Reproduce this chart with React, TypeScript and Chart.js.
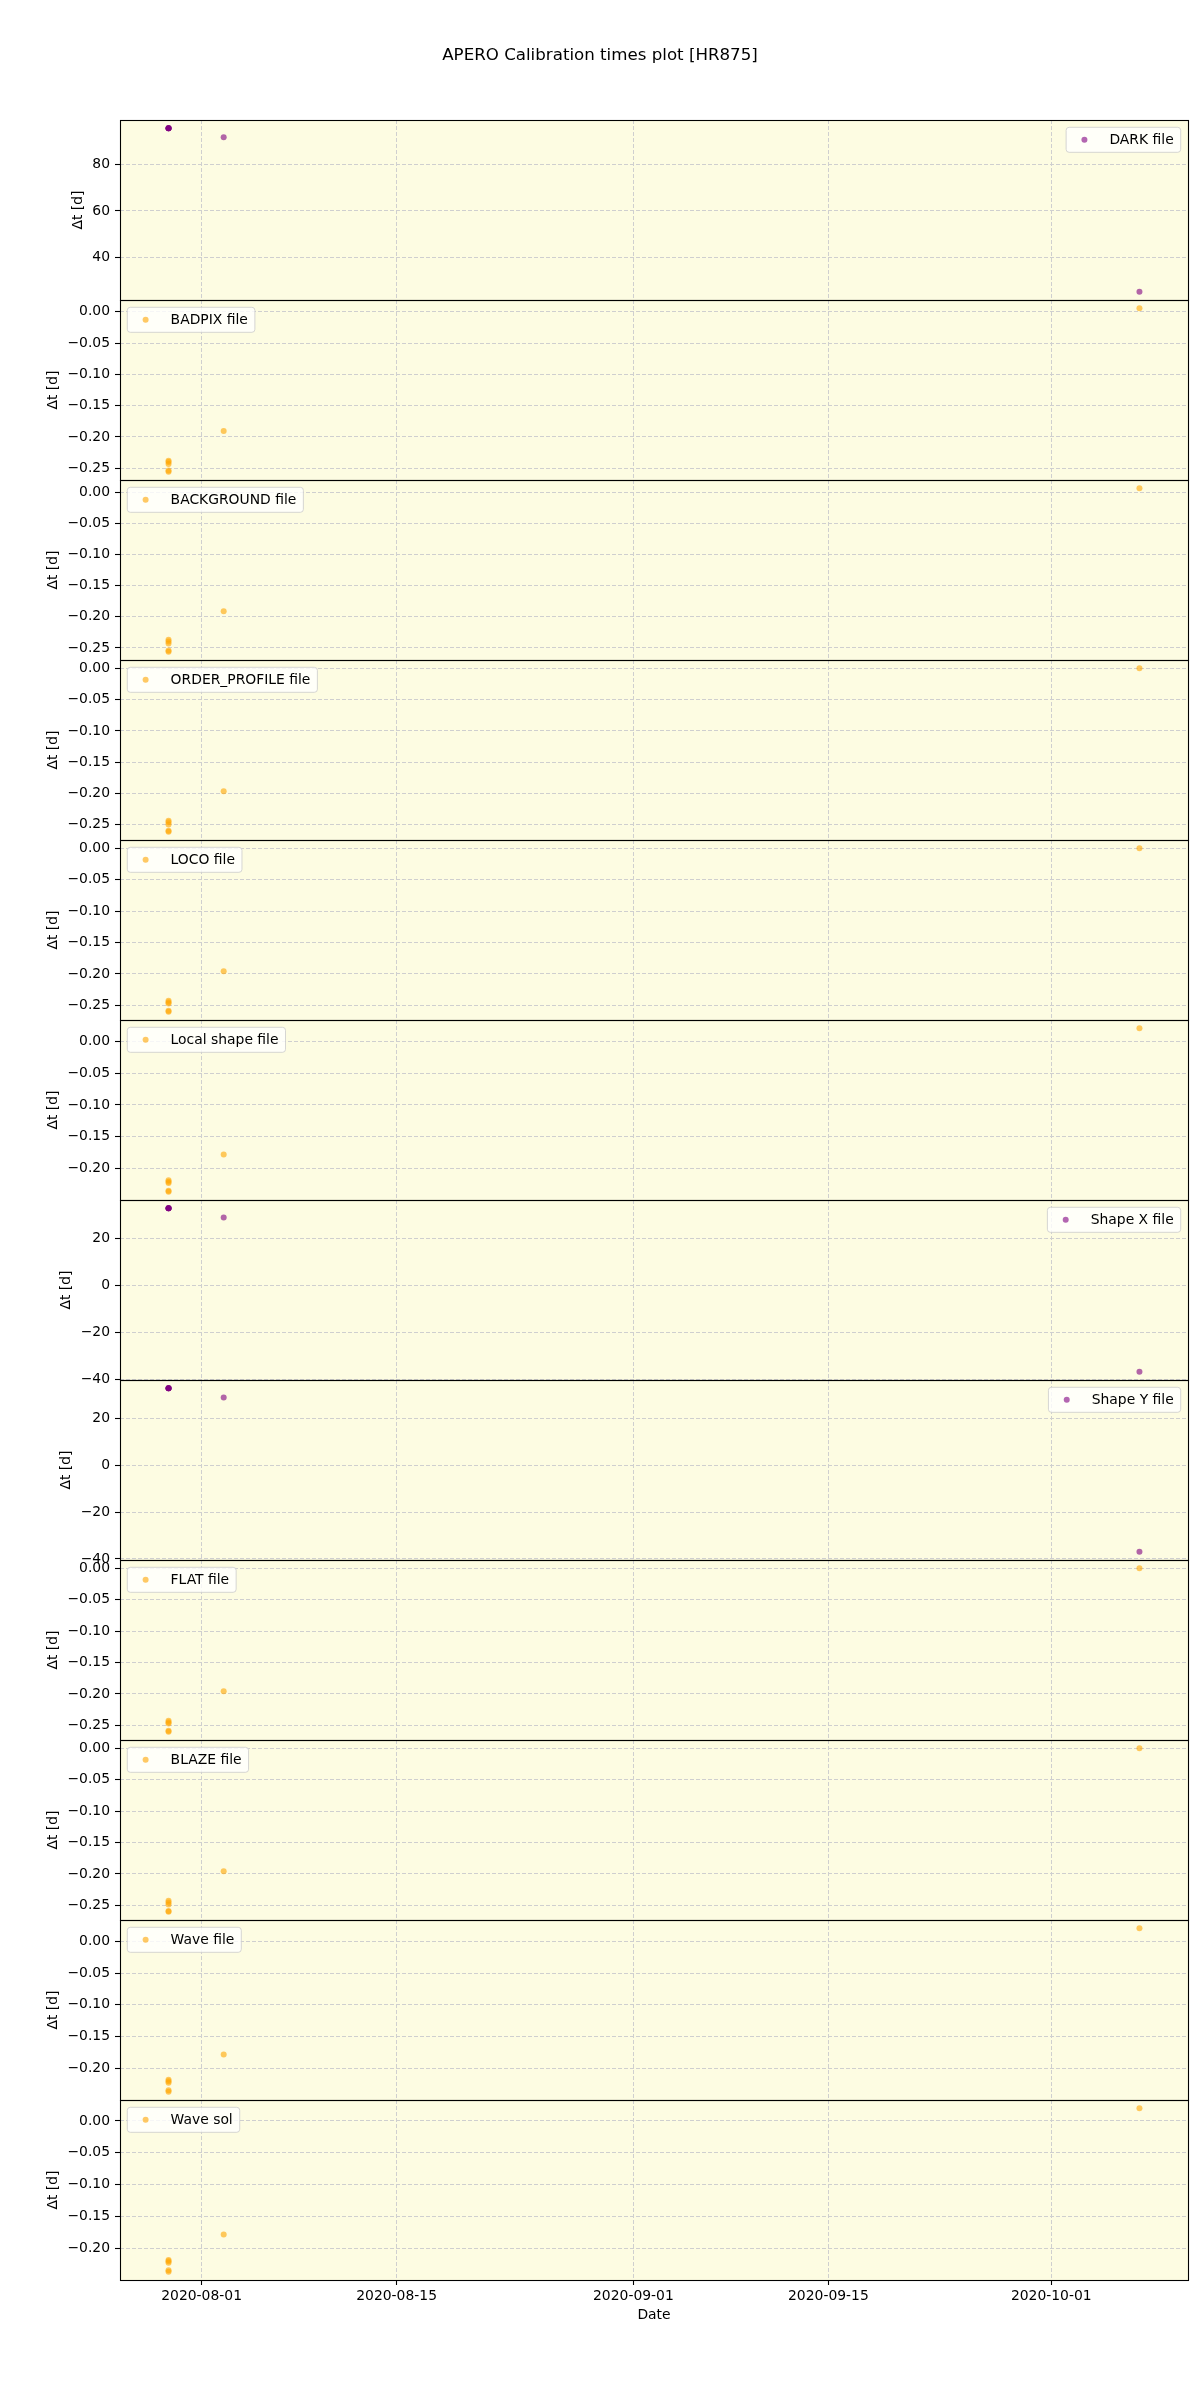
import React, { useEffect, useRef } from 'react';
import { Chart, registerables } from 'chart.js';

Chart.register(...registerables);

// ---------------- data ----------------
const TITLE = 'APERO Calibration times plot [HR875]';
const X_LABEL = 'Date';
const Y_LABEL = 'Δt [d]';

const OBS_DATES = [
  '2020-07-29T15:00:00Z',
  '2020-07-29T15:00:00Z',
  '2020-07-29T15:00:00Z',
  '2020-07-29T15:00:00Z',
  '2020-07-29T15:00:00Z',
  '2020-08-02T14:00:00Z',
  '2020-10-07T08:00:00Z',
];

const X_TICKS = ['2020-08-01', '2020-08-15', '2020-09-01', '2020-09-15', '2020-10-01'];

const PANEL_LABELS = [
  'DARK file',
  'BADPIX file',
  'BACKGROUND file',
  'ORDER_PROFILE file',
  'LOCO file',
  'Local shape file',
  'Shape X file',
  'Shape Y file',
  'FLAT file',
  'BLAZE file',
  'Wave file',
  'Wave sol',
];

const DARK_DT = [95.47, 95.46, 95.45, 95.44, 95.43, 91.62, 25.38];
const BADPIX_DT = [-0.2379, -0.24, -0.2431, -0.2535, -0.2557, -0.1904, 0.0056];
const BACKGROUND_DT = [-0.2368, -0.2395, -0.2428, -0.254, -0.2562, -0.191, 0.0068];
const ORDER_PROFILE_DT = [-0.2435, -0.246, -0.2494, -0.2595, -0.2612, -0.1965, 0.0002];
const LOCO_DT = [-0.2427, -0.245, -0.2471, -0.2585, -0.2602, -0.1956, 0.0001];
const LOCAL_SHAPE_DT = [-0.2184, -0.2205, -0.2228, -0.235, -0.2365, -0.178, 0.0205];
const SHAPE_X_DT = [32.82, 32.81, 32.8, 32.79, 32.78, 28.9, -36.82];
const SHAPE_Y_DT = [32.95, 32.94, 32.93, 32.92, 32.91, 29.02, -36.94];
const FLAT_DT = [-0.2427, -0.245, -0.2471, -0.2585, -0.2602, -0.1956, 0.0001];
const BLAZE_DT = [-0.2427, -0.2455, -0.2485, -0.259, -0.2602, -0.1956, 0.0001];
const WAVE_FILE_DT = [-0.218, -0.2203, -0.2226, -0.2345, -0.2368, -0.178, 0.0206];
const WAVE_SOL_DT = [-0.218, -0.22, -0.2225, -0.234, -0.2366, -0.178, 0.0201];

const PANEL_VALUES = [
  DARK_DT,
  BADPIX_DT,
  BACKGROUND_DT,
  ORDER_PROFILE_DT,
  LOCO_DT,
  LOCAL_SHAPE_DT,
  SHAPE_X_DT,
  SHAPE_Y_DT,
  FLAT_DT,
  BLAZE_DT,
  WAVE_FILE_DT,
  WAVE_SOL_DT,
];

const DARK_TICKS = [40, 60, 80];
const FINE_TICKS_A = [-0.25, -0.2, -0.15, -0.1, -0.05, 0.0];
const FINE_TICKS_B = [-0.2, -0.15, -0.1, -0.05, 0.0];
const SHAPE_TICKS = [-40, -20, 0, 20];

const PANEL_TICKS = [
  DARK_TICKS,
  FINE_TICKS_A,
  FINE_TICKS_A,
  FINE_TICKS_A,
  FINE_TICKS_A,
  FINE_TICKS_B,
  SHAPE_TICKS,
  SHAPE_TICKS,
  FINE_TICKS_A,
  FINE_TICKS_A,
  FINE_TICKS_B,
  FINE_TICKS_B,
];

const PANEL_DECIMALS = [0, 2, 2, 2, 2, 2, 0, 0, 2, 2, 2, 2];

// ---------------- style ----------------
const FONT = "'DejaVu Sans', sans-serif";
const FS = 13.9;
const TITLE_FS = 16.67;
const AXES_BG = 'rgb(253,252,226)';
const GRID = '#cfcfcf';
const PURPLE = 'rgba(128,0,128,0.6)';
const ORANGE = 'rgba(255,165,0,0.6)';
const PANEL_COLOR = [PURPLE, ORANGE, ORANGE, ORANGE, ORANGE, ORANGE, PURPLE, PURPLE, ORANGE, ORANGE, ORANGE, ORANGE];
const LEGEND_RIGHT = [true, false, false, false, false, false, true, true, false, false, false, false];

const Y_AXIS_WIDTH = 120;
const TICK_LEN = 5;
const TICK_PAD = 5;

function fmt(v: number, d: number): string {
  let s = v.toFixed(d);
  if (/^-0(\.0+)?$/.test(s)) s = s.slice(1);
  if (s.startsWith('-')) s = '\u2212' + s.slice(1);
  return s;
}

function limits(vals: number[]): [number, number] {
  const mn = Math.min(...vals);
  const mx = Math.max(...vals);
  const m = (mx - mn) * 0.05;
  return [mn - m, mx + m];
}

function roundRect(ctx: CanvasRenderingContext2D, x: number, y: number, w: number, h: number, r: number) {
  ctx.beginPath();
  ctx.moveTo(x + r, y);
  ctx.lineTo(x + w - r, y);
  ctx.arcTo(x + w, y, x + w, y + r, r);
  ctx.lineTo(x + w, y + h - r);
  ctx.arcTo(x + w, y + h, x + w - r, y + h, r);
  ctx.lineTo(x + r, y + h);
  ctx.arcTo(x, y + h, x, y + h - r, r);
  ctx.lineTo(x, y + r);
  ctx.arcTo(x, y, x + r, y, r);
  ctx.closePath();
}

const panelPlugin = {
  id: 'panelDecor',
  beforeDraw(chart: any) {
    const { ctx, chartArea } = chart;
    ctx.save();
    ctx.fillStyle = '#ffffff';
    ctx.fillRect(0, 0, chart.width, chart.height);
    ctx.fillStyle = AXES_BG;
    ctx.fillRect(chartArea.left, chartArea.top, chartArea.right - chartArea.left, chartArea.bottom - chartArea.top);
    ctx.restore();
  },
  afterDatasetsDraw(chart: any) {
    const { ctx, chartArea } = chart;
    ctx.save();
    ctx.strokeStyle = '#000';
    ctx.lineWidth = 1.1;
    PANEL_LABELS.forEach((_, i) => {
      const s = chart.scales['y' + i];
      ctx.strokeRect(
        Math.round(chartArea.left) + 0.5,
        Math.round(s.top) + 0.5,
        Math.round(chartArea.right) - Math.round(chartArea.left),
        Math.round(s.bottom) - Math.round(s.top)
      );
    });
    ctx.restore();
  },
  afterDraw(chart: any) {
    const { ctx, chartArea } = chart;
    ctx.save();
    // figure title, centred on the figure
    ctx.font = `${TITLE_FS}px ${FONT}`;
    ctx.fillStyle = '#000';
    ctx.textAlign = 'center';
    ctx.textBaseline = 'middle';
    ctx.fillText(TITLE, chart.width / 2, 56);

    ctx.font = `${FS}px ${FONT}`;
    PANEL_LABELS.forEach((label, i) => {
      const s = chart.scales['y' + i];
      const tw = ctx.measureText(label).width;
      const h = 25;
      const pad = 7.3;
      const w = 43.3 + tw + 7;
      const x0 = LEGEND_RIGHT[i] ? chartArea.right - pad - w : chartArea.left + pad;
      const y0 = s.top + pad;
      roundRect(ctx, x0, y0, w, h, 3);
      ctx.fillStyle = 'rgba(255,255,255,0.8)';
      ctx.fill();
      ctx.strokeStyle = 'rgba(204,204,204,0.8)';
      ctx.lineWidth = 1;
      ctx.stroke();
      ctx.beginPath();
      ctx.arc(x0 + 18.3, y0 + h / 2, 3, 0, Math.PI * 2);
      ctx.fillStyle = PANEL_COLOR[i];
      ctx.fill();
      ctx.fillStyle = '#000';
      ctx.textBaseline = 'middle';
      ctx.textAlign = 'left';
      ctx.fillText(label, x0 + 43.3, y0 + h / 2 + 0.5);
    });
    ctx.restore();
  },
};

export default function App() {
  const ref = useRef<HTMLCanvasElement>(null);

  useEffect(() => {
    const canvas = ref.current;
    if (!canvas) return;

    const mctx = document.createElement('canvas').getContext('2d')!;
    mctx.font = `${FS}px ${FONT}`;

    const xs = OBS_DATES.map((d) => Date.parse(d));
    const [xMin, xMax] = limits(xs);
    const font = { family: FONT, size: FS, weight: 'normal' as const, lineHeight: 1.2 };

    const scales: any = {
      x: {
        type: 'linear',
        position: 'bottom',
        min: xMin,
        max: xMax,
        afterBuildTicks: (s: any) => {
          s.ticks = X_TICKS.map((t) => ({ value: Date.parse(t + 'T00:00:00Z') }));
        },
        afterFit: (s: any) => {
          s.height = 120;
        },
        ticks: {
          callback: (v: any) => new Date(Number(v)).toISOString().slice(0, 10),
          font,
          color: '#000',
          padding: 3.3,
          maxRotation: 0,
          autoSkip: false,
        },
        grid: { color: GRID, lineWidth: 1, tickColor: '#000', tickLength: TICK_LEN, tickWidth: 1.1 },
        border: { display: false, dash: [4, 2] },
        title: { display: true, text: X_LABEL, color: '#000', font, padding: { top: 0, bottom: 76.7 } },
      },
    };

    PANEL_LABELS.forEach((_, i) => {
      const [mn, mx] = limits(PANEL_VALUES[i]);
      const ticks = PANEL_TICKS[i];
      const dec = PANEL_DECIMALS[i];
      const maxW = Math.max(...ticks.map((t) => mctx.measureText(fmt(t, dec)).width));
      const labelRight = Y_AXIS_WIDTH - TICK_LEN - TICK_PAD;
      const titleCenter = labelRight - maxW - 14.2;
      scales['y' + i] = {
        type: 'linear',
        position: 'left',
        stack: 'panels',
        stackWeight: 1,
        weight: PANEL_LABELS.length - i,
        min: mn,
        max: mx,
        afterBuildTicks: (s: any) => {
          s.ticks = ticks.map((v) => ({ value: v }));
        },
        afterFit: (s: any) => {
          s.width = Y_AXIS_WIDTH;
        },
        ticks: {
          callback: (v: any) => fmt(Number(v), dec),
          font,
          color: '#000',
          padding: TICK_PAD,
          autoSkip: false,
        },
        grid: { color: GRID, lineWidth: 1, tickColor: '#000', tickLength: TICK_LEN, tickWidth: 1.1 },
        border: { display: false, dash: [4, 2] },
        title: {
          display: true,
          text: Y_LABEL,
          color: '#000',
          font,
          padding: { top: titleCenter - (FS * 1.2) / 2, bottom: 0 },
        },
      };
    });

    const datasets = PANEL_LABELS.map((label, i) => ({
      label,
      data: PANEL_VALUES[i].map((y, j) => ({ x: xs[j], y })),
      xAxisID: 'x',
      yAxisID: 'y' + i,
      showLine: false,
      pointRadius: 3,
      pointHoverRadius: 3,
      pointBorderWidth: 0,
      pointBackgroundColor: PANEL_COLOR[i],
      backgroundColor: PANEL_COLOR[i],
      borderColor: PANEL_COLOR[i],
    }));

    const chart = new Chart(canvas, {
      type: 'scatter',
      data: { datasets },
      options: {
        animation: false,
        responsive: false,
        devicePixelRatio: 1,
        events: [],
        layout: { padding: { left: 0, right: 12, top: 120, bottom: 0 } },
        plugins: {
          legend: { display: false },
          tooltip: { enabled: false },
          title: { display: false },
        },
        scales,
      } as any,
      plugins: [panelPlugin],
    });

    return () => chart.destroy();
  }, []);

  return (
    <div style={{ position: 'absolute', left: 0, top: 0, width: 1200, height: 2400, background: '#fff' }}>
      <canvas ref={ref} width={1200} height={2400} style={{ display: 'block', width: 1200, height: 2400 }} />
    </div>
  );
}
